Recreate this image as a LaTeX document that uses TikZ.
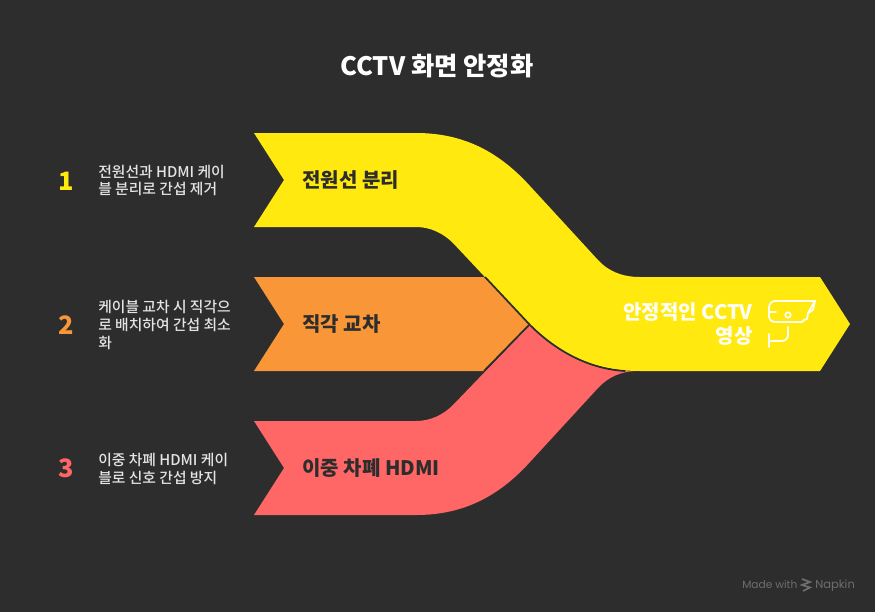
\documentclass[tikz,border=0pt]{standalone}
\usepackage{fontspec}
\setmainfont{Noto Sans CJK KR}
\newfontfamily\krmed{Noto Sans CJK KR Medium}
\newfontfamily\lat{Poppins}
\definecolor{bgdark}{HTML}{2D2D2D}
\definecolor{fyellow}{HTML}{FFE90F}
\definecolor{forange}{HTML}{F99738}
\definecolor{fred}{HTML}{FF6666}
\definecolor{txtdark}{HTML}{2D2D2D}
\definecolor{txtlight}{HTML}{E4E4E4}
\definecolor{wm}{HTML}{6E6E6E}
\tikzset{
 px/.style={x=0.75pt,y=-0.75pt},
 desc/.style={anchor=north west,align=left,text=txtlight,font=\fontsize{11.1}{13.4}\selectfont\krmed,inner sep=0pt},
 num/.style={anchor=center,font=\fontsize{19}{21}\selectfont\bfseries,inner sep=0pt},
 lab/.style={anchor=west,text=txtdark,font=\fontsize{15}{18}\selectfont\bfseries,inner sep=0pt},
 icon/.style={draw=white!95!yellow,line width=1.35pt,line cap=round,line join=round}
}
\begin{document}
\begin{tikzpicture}[px]
\useasboundingbox (0,0) rectangle (875,612);
\fill[bgdark] (0,0) rectangle (875,612);
\node[text=white,font=\fontsize{19}{23}\selectfont\bfseries,inner sep=0pt] (title) at (437,66) {CCTV 화면 안정화};
% flows
\fill[forange] (254,277) -- (484,277) -- (530,325) -- (484,371) -- (254,371) -- (284,324) -- cycle;
\fill[fred] (254,421) -- (416,421) .. controls (430,421) and (443,415) .. (453,405)
 -- (530,325) .. controls (560,355) and (595,371) .. (637,371)
 .. controls (622,371) and (608,377) .. (598,388)
 -- (530,462) .. controls (500,495) and (465,515) .. (416,515) -- (254,515) -- (284,468) -- cycle;
\draw[bgdark,line width=1.3pt] (484,371) -- (529,325);
\fill[fyellow] (254,133) -- (416,133)
 .. controls (465,133) and (500,153) .. (530,186)
 -- (598,260) .. controls (608,271) and (622,277) .. (640,277)
 -- (820,277) -- (850,324) -- (820,371) -- (640,371)
 .. controls (595,371) and (560,355) .. (530,325)
 -- (453,243) .. controls (443,233) and (430,227) .. (416,227)
 -- (254,227) -- (284,180) -- cycle;
\draw[bgdark,line width=1.3pt] (485,277) -- (530,325) .. controls (557,352) and (590,369) .. (625,371);
% labels
\node[lab] (l1) at (302,180) {전원선 분리};
\node[lab] (l2) at (302,324) {직각 교차};
\node[lab] (l3) at (302,468) {이중 차폐 HDMI};
\node[anchor=east,align=right,text=white!96!yellow,font=\fontsize{15}{17.6}\selectfont\bfseries,inner sep=0pt] (out) at (753,324) {안정적인 CCTV\\영상};
% numbers
\node[num,text=fyellow] (n1) at (66,181) {1};
\node[num,text=forange] (n2) at (66,325) {2};
\node[num,text=fred] (n3) at (66,468) {3};
% descriptions
\node[desc] (d1) at (98,164.5) {전원선과 HDMI 케이\\블 분리로 간섭 제거};
\node[desc] (d2) at (98,300) {케이블 교차 시 직각으\\로 배치하여 간섭 최소\\화};
\node[desc] (d3) at (98,453) {이중 차폐 HDMI 케이\\블로 신호 간섭 방지};
% camera icon
\draw[icon] (769,308) .. controls (769,303) and (772,301) .. (776,301) -- (815,301) -- (813,310) -- (808,313) -- (807,319) -- (804,320) -- (802,322) -- (776,322) .. controls (772,322) and (769,320) .. (769,316) -- cycle;
\draw[icon] (769,312) -- (776,312);
\draw[icon] (808,313) -- (815,301);
\draw[icon] (788,315) circle (2.7);
\draw[icon] (788,327) -- (788,335) .. controls (788,339) and (785,341) .. (781,341) -- (769,341);
\draw[icon] (769,334) -- (769,347);
% watermark
\node[anchor=base west,text=wm,font=\fontsize{8}{10}\selectfont\lat,inner sep=0pt] (made) at (742,588) {Made with};
\node[anchor=base west,text=wm,font=\fontsize{8.6}{10}\selectfont\lat,inner sep=0pt] (nap) at (815,588) {Napkin};
\draw[wm,line width=1.3pt] (802,579) -- (810,582) -- (802,585) -- (810,587.5) -- (803,591);
\end{tikzpicture}
\end{document}
